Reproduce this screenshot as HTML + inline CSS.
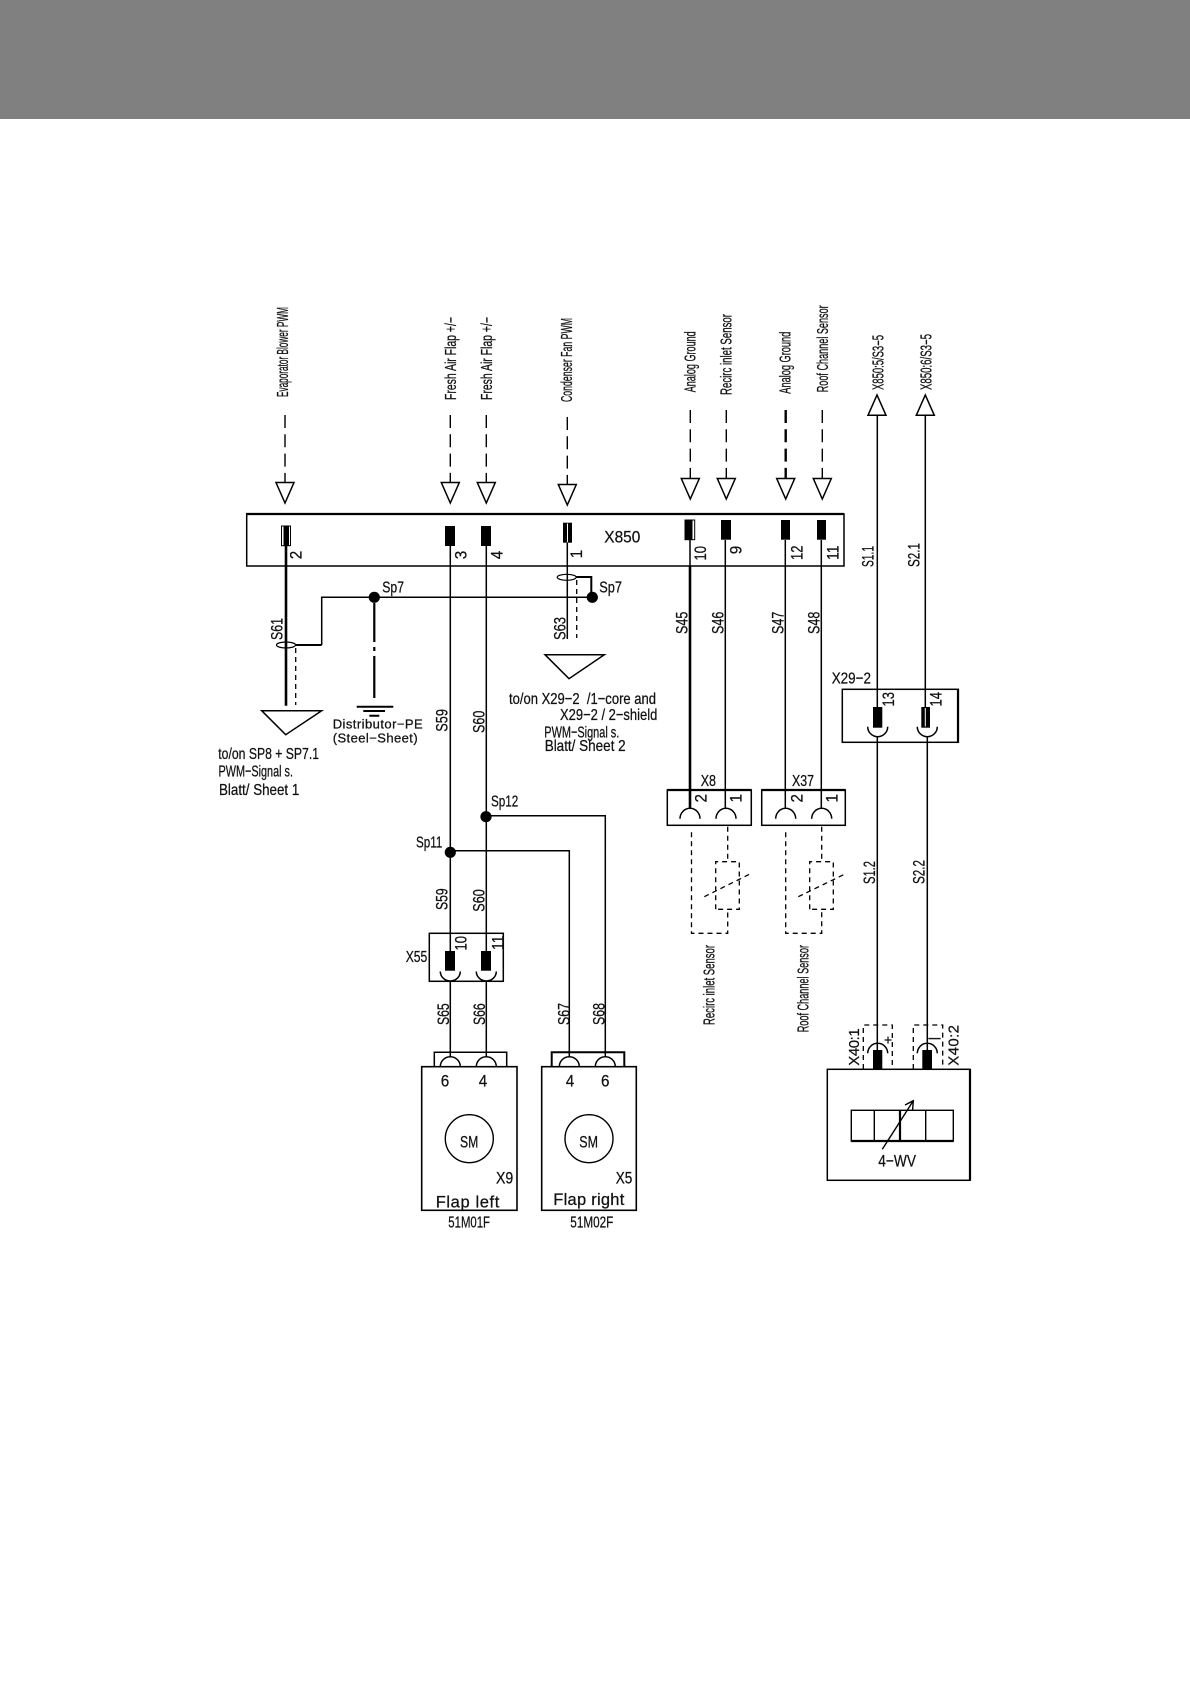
<!DOCTYPE html>
<html><head><meta charset="utf-8"><style>
html,body{margin:0;padding:0;background:#fff;width:1190px;height:1684px;overflow:hidden}
svg{display:block}
text{font-family:"Liberation Sans",sans-serif;fill:#111;stroke:#111;stroke-width:.25}
.l{stroke:#000;stroke-width:1.5;fill:none}
.t{stroke:#000;stroke-width:2.6;fill:none}
.d{stroke:#000;stroke-width:1.4;fill:none;stroke-dasharray:13 6.3}
.s{stroke:#000;stroke-width:1.3;fill:none;stroke-dasharray:5 4}
.a{stroke:#000;stroke-width:1.5;fill:#fff}
.c{font-size:15.5px}
.w{font-size:16.5px}
.n{font-size:17px;text-anchor:middle}
.b{font-size:16px}
</style></head><body>
<svg width="1190" height="1684" viewBox="0 0 1190 1684" xmlns="http://www.w3.org/2000/svg">
<rect x="0" y="0" width="1190" height="119" fill="#808080"/>

<!-- top dashed arrows -->
<path class="d" d="M285 415V482M450.3 415V482M486.3 415V482M567.3 417V484M690.3 410V478M726.3 410V478M822.3 410V478"/>
<path class="d" style="stroke-width:2.4" d="M785.7 410V478"/>
<path class="a" d="M276 482.5H294L285 503ZM441.3 482.5H459.3L450.3 503ZM477.3 482.5H495.3L486.3 503ZM558.3 484.5H576.3L567.3 505ZM681.3 478.5H699.3L690.3 499ZM717.3 478.5H735.3L726.3 499ZM776.7 478.5H794.7L785.7 499ZM813.3 478.5H831.3L822.3 499Z"/>
<path class="a" d="M868 415.3H886L877 395ZM916.3 415.3H934.3L925.3 395Z"/>

<!-- rotated top labels -->
<text class="c" transform="translate(288 397) rotate(-90)" textLength="90" lengthAdjust="spacingAndGlyphs">Evaporator Blower PWM</text>
<text class="c" transform="translate(456 400) rotate(-90)" textLength="83" lengthAdjust="spacingAndGlyphs">Fresh Air Flap +/−</text>
<text class="c" transform="translate(492 400) rotate(-90)" textLength="83" lengthAdjust="spacingAndGlyphs">Fresh Air Flap +/−</text>
<text class="c" transform="translate(572 402) rotate(-90)" textLength="84" lengthAdjust="spacingAndGlyphs">Condenser Fan PWM</text>
<text class="c" transform="translate(695.7 392.3) rotate(-90)" textLength="61" lengthAdjust="spacingAndGlyphs">Analog Ground</text>
<text class="c" transform="translate(731.7 395) rotate(-90)" textLength="81" lengthAdjust="spacingAndGlyphs">Recirc inlet Sensor</text>
<text class="c" transform="translate(790.3 393.7) rotate(-90)" textLength="62" lengthAdjust="spacingAndGlyphs">Analog Ground</text>
<text class="c" transform="translate(828 392.3) rotate(-90)" textLength="87" lengthAdjust="spacingAndGlyphs">Roof Channel Sensor</text>
<text class="c" transform="translate(883.3 390) rotate(-90)" textLength="55" lengthAdjust="spacingAndGlyphs">X850:5/S3−5</text>
<text class="c" transform="translate(931.3 390) rotate(-90)" textLength="56" lengthAdjust="spacingAndGlyphs">X850:6/S3−5</text>

<!-- X850 box -->
<rect x="246.7" y="514" width="597.3" height="52" fill="none" stroke="#000" stroke-width="1.5"/>
<path stroke="#000" stroke-width="2.2" d="M246 514H844"/>
<text class="b" x="604.3" y="542.7" style="font-size:17px" textLength="36" lengthAdjust="spacingAndGlyphs">X850</text>

<!-- pins -->
<rect x="281.5" y="526" width="9" height="19.7" fill="#fff" stroke="#000" stroke-width="1"/>
<rect x="283.5" y="526" width="5.5" height="19.7" fill="#000"/>
<rect x="445" y="526" width="10" height="20" fill="#000"/>
<rect x="481" y="526" width="10" height="20" fill="#000"/>
<rect x="563" y="522.7" width="9" height="20" fill="#000"/>
<rect x="567" y="523.5" width="1" height="18.5" fill="#fff"/>
<rect x="685" y="520" width="9.7" height="19.7" fill="#fff" stroke="#000" stroke-width="1"/>
<rect x="685" y="520" width="7.5" height="19.7" fill="#000"/>
<rect x="721" y="520" width="10" height="19.7" fill="#000"/>
<rect x="781" y="520" width="9" height="19.7" fill="#000"/>
<rect x="817" y="520" width="9" height="19.7" fill="#000"/>

<text class="n" transform="translate(301.7 555) rotate(-90)" textLength="8.5" lengthAdjust="spacingAndGlyphs">2</text>
<text class="n" transform="translate(466.7 555) rotate(-90)" textLength="8.5" lengthAdjust="spacingAndGlyphs">3</text>
<text class="n" transform="translate(502.7 555) rotate(-90)" textLength="8.5" lengthAdjust="spacingAndGlyphs">4</text>
<text class="n" transform="translate(582 554) rotate(-90)" textLength="8.5" lengthAdjust="spacingAndGlyphs">1</text>
<text class="n" transform="translate(706 553.3) rotate(-90)" textLength="14.5" lengthAdjust="spacingAndGlyphs">10</text>
<text class="n" transform="translate(741.7 550) rotate(-90)" textLength="8.5" lengthAdjust="spacingAndGlyphs">9</text>
<text class="n" transform="translate(802.7 552.7) rotate(-90)" textLength="14.5" lengthAdjust="spacingAndGlyphs">12</text>
<text class="n" transform="translate(838.7 552.7) rotate(-90)" textLength="14.5" lengthAdjust="spacingAndGlyphs">11</text>

<!-- wires from X850 -->
<path class="t" d="M286 546V705.7"/>
<path class="l" d="M450.3 546V951M486.3 546V951M567.3 543V639"/>
<path class="l" d="M690 540V566M725.3 540V808.3M785.3 540V808.3M821.3 540V808.3"/>
<path class="t" d="M690 566V808.3"/>
<path class="l" d="M877.3 415V707M925.3 415V707"/>

<!-- shield / Sp7 -->
<ellipse cx="286" cy="645" rx="9.5" ry="3" fill="none" stroke="#000" stroke-width="1.2"/>
<ellipse cx="566.7" cy="577.3" rx="9.5" ry="3" fill="none" stroke="#000" stroke-width="1.2"/>
<path class="t" d="M295 645H321.7" style="stroke-width:2"/>
<path class="l" d="M321.7 645V597.3H592"/>
<path class="t" d="M576 577H591.3V597" style="stroke-width:2"/>
<circle cx="374.3" cy="597.3" r="5.6" fill="#000"/>
<circle cx="592.3" cy="597.3" r="5.6" fill="#000"/>
<path class="s" d="M295.7 648V705M576.7 580V638"/>
<path stroke="#000" stroke-width="2.2" fill="none" stroke-dasharray="39 5 4 5 43" d="M374.3 603V698"/>
<path stroke="#000" stroke-width="2" d="M356.7 706.7H393.3M363.3 711H385M369.3 715.7H379.3"/>

<path class="a" d="M261.7 710.7H321.7L285.7 734.7Z"/>
<path class="a" d="M545 654.7H604.3L569 678.7Z"/>

<text class="b" x="382.3" y="592.3" textLength="21.7" lengthAdjust="spacingAndGlyphs">Sp7</text>
<text class="b" x="599.3" y="592.3" textLength="22.7" lengthAdjust="spacingAndGlyphs">Sp7</text>
<text class="w" transform="translate(282.3 640) rotate(-90)" textLength="22" lengthAdjust="spacingAndGlyphs">S61</text>
<text class="w" transform="translate(565.3 640) rotate(-90)" textLength="23" lengthAdjust="spacingAndGlyphs">S63</text>
<text class="w" transform="translate(447.7 731.7) rotate(-90)" textLength="22.7" lengthAdjust="spacingAndGlyphs">S59</text>
<text class="w" transform="translate(484.3 733) rotate(-90)" textLength="22.3" lengthAdjust="spacingAndGlyphs">S60</text>

<text class="b" x="218.3" y="759" textLength="100.7" lengthAdjust="spacingAndGlyphs">to/on SP8 + SP7.1</text>
<text class="b" x="218.5" y="776.7" textLength="74.5" lengthAdjust="spacingAndGlyphs">PWM−Signal s.</text>
<text class="b" x="219" y="795" textLength="80.3" lengthAdjust="spacingAndGlyphs">Blatt/ Sheet 1</text>
<text style="font-size:13px" x="332.7" y="728.3" textLength="90" lengthAdjust="spacing">Distributor−PE</text>
<text style="font-size:13px" x="332.7" y="742.7" textLength="85" lengthAdjust="spacing">(Steel−Sheet)</text>
<text class="b" x="509" y="704" textLength="147" lengthAdjust="spacingAndGlyphs" xml:space="preserve">to/on X29−2  /1−core and</text>
<text class="b" x="560" y="720" textLength="97.3" lengthAdjust="spacingAndGlyphs">X29−2 / 2−shield</text>
<text class="b" x="544.3" y="737.3" textLength="75" lengthAdjust="spacingAndGlyphs">PWM−Signal s.</text>
<text class="b" x="544.7" y="751" textLength="81" lengthAdjust="spacingAndGlyphs">Blatt/ Sheet 2</text>

<!-- Sp11 Sp12 -->
<circle cx="486" cy="816.7" r="5.6" fill="#000"/>
<circle cx="450.3" cy="852.3" r="5.6" fill="#000"/>
<path class="l" d="M486 815.7H605.3V1056.7M450.3 850.7H569.3V1056.7"/>
<text class="b" x="491" y="806.7" textLength="27.3" lengthAdjust="spacingAndGlyphs">Sp12</text>
<text class="b" x="416" y="847.3" textLength="26.3" lengthAdjust="spacingAndGlyphs">Sp11</text>

<!-- X55 -->
<rect x="429.3" y="933.3" width="74" height="48" fill="#fff" stroke="#000" stroke-width="1.5"/>
<path class="l" d="M450.3 933.3V951M486.3 933.3V951M450.3 981V1056.7M486.3 981V1056.7"/>
<rect x="445" y="951" width="10" height="19.7" fill="#000"/>
<rect x="481" y="951" width="10" height="19.7" fill="#000"/>
<path class="l" d="M440.3 971.5A10 9.5 0 0 0 460.3 971.5M476.3 971.5A10 9.5 0 0 0 496.3 971.5"/>
<text class="b" x="405.7" y="962" textLength="21.6" lengthAdjust="spacingAndGlyphs">X55</text>
<text class="n" transform="translate(466.7 943.3) rotate(-90)" textLength="14.5" lengthAdjust="spacingAndGlyphs">10</text>
<text class="n" transform="translate(503.3 942.7) rotate(-90)" textLength="14.5" lengthAdjust="spacingAndGlyphs">11</text>
<text class="w" transform="translate(447.3 910) rotate(-90)" textLength="21.7" lengthAdjust="spacingAndGlyphs">S59</text>
<text class="w" transform="translate(484.3 911.7) rotate(-90)" textLength="22.4" lengthAdjust="spacingAndGlyphs">S60</text>
<text class="w" transform="translate(449 1025) rotate(-90)" textLength="21.7" lengthAdjust="spacingAndGlyphs">S65</text>
<text class="w" transform="translate(485 1025) rotate(-90)" textLength="21.7" lengthAdjust="spacingAndGlyphs">S66</text>
<text class="w" transform="translate(569.3 1025) rotate(-90)" textLength="22" lengthAdjust="spacingAndGlyphs">S67</text>
<text class="w" transform="translate(604.3 1025) rotate(-90)" textLength="22" lengthAdjust="spacingAndGlyphs">S68</text>

<!-- Motors -->
<path class="l" d="M434.3 1066.7V1052.3H506.7V1066.7"/>
<path stroke="#000" stroke-width="2" fill="none" d="M551.7 1066.7V1052.3H624.3V1066.7"/>
<rect x="421.7" y="1066.7" width="95.3" height="143.6" fill="#fff" stroke="#000" stroke-width="1.6"/>
<rect x="541.7" y="1066.7" width="94.6" height="143.6" fill="#fff" stroke="#000" stroke-width="1.6"/>
<path class="l" d="M440.3 1066.7A10 10 0 0 1 460.3 1066.7M476.3 1066.7A10 10 0 0 1 496.3 1066.7M559.3 1066.7A10 10 0 0 1 579.3 1066.7M595.3 1066.7A10 10 0 0 1 615.3 1066.7"/>
<circle cx="469.3" cy="1138.7" r="24" fill="none" stroke="#000" stroke-width="1.4"/>
<circle cx="589" cy="1138.7" r="24" fill="none" stroke="#000" stroke-width="1.4"/>
<text class="n" x="445" y="1086.7" textLength="8.5" lengthAdjust="spacingAndGlyphs">6</text>
<text class="n" x="483" y="1086.7" textLength="8.5" lengthAdjust="spacingAndGlyphs">4</text>
<text class="n" x="570" y="1086.7" textLength="8.5" lengthAdjust="spacingAndGlyphs">4</text>
<text class="n" x="605.3" y="1086.7" textLength="8.5" lengthAdjust="spacingAndGlyphs">6</text>
<text class="b" x="460" y="1147.3" style="font-size:17px" textLength="18.3" lengthAdjust="spacingAndGlyphs">SM</text>
<text class="b" x="579.3" y="1147.3" style="font-size:17px" textLength="18.7" lengthAdjust="spacingAndGlyphs">SM</text>
<text class="b" x="496" y="1183.3" style="font-size:17px" textLength="17.3" lengthAdjust="spacingAndGlyphs">X9</text>
<text class="b" x="615.7" y="1183.3" style="font-size:17px" textLength="16.6" lengthAdjust="spacingAndGlyphs">X5</text>
<text style="font-size:16.5px" x="435.7" y="1207.3" textLength="63.6" lengthAdjust="spacing">Flap left</text>
<text style="font-size:16.5px" x="553.3" y="1205" textLength="71" lengthAdjust="spacing">Flap right</text>
<text class="b" x="448.3" y="1227.3" textLength="41.7" lengthAdjust="spacingAndGlyphs">51M01F</text>
<text class="b" x="570.3" y="1227.3" textLength="43" lengthAdjust="spacingAndGlyphs">51M02F</text>

<!-- X8, X37 -->
<rect x="667.3" y="790" width="84" height="35.3" fill="none" stroke="#000" stroke-width="1.5"/>
<rect x="761.7" y="790" width="83.6" height="35.3" fill="none" stroke="#000" stroke-width="1.5"/>
<path stroke="#000" stroke-width="2.2" d="M667 790H751.5M761.5 790H845.5"/>
<path class="l" d="M680 818.7A10 10.4 0 0 1 700 818.7M716 818.7A10 10.4 0 0 1 736 818.7M775.7 818.7A10 10.4 0 0 1 795.7 818.7M811.7 818.7A10 10.4 0 0 1 831.7 818.7"/>
<text class="b" x="700.7" y="786" textLength="15.3" lengthAdjust="spacingAndGlyphs">X8</text>
<text class="b" x="792" y="786" textLength="22" lengthAdjust="spacingAndGlyphs">X37</text>
<text class="n" transform="translate(706.7 798.3) rotate(-90)" textLength="8.5" lengthAdjust="spacingAndGlyphs">2</text>
<text class="n" transform="translate(741.7 798.3) rotate(-90)" textLength="8.5" lengthAdjust="spacingAndGlyphs">1</text>
<text class="n" transform="translate(802.7 798.3) rotate(-90)" textLength="8.5" lengthAdjust="spacingAndGlyphs">2</text>
<text class="n" transform="translate(837.7 798.3) rotate(-90)" textLength="8.5" lengthAdjust="spacingAndGlyphs">1</text>
<text class="w" transform="translate(687.7 634) rotate(-90)" textLength="22.3" lengthAdjust="spacingAndGlyphs">S45</text>
<text class="w" transform="translate(723.3 634) rotate(-90)" textLength="22.3" lengthAdjust="spacingAndGlyphs">S46</text>
<text class="w" transform="translate(783.7 634) rotate(-90)" textLength="22.3" lengthAdjust="spacingAndGlyphs">S47</text>
<text class="w" transform="translate(819.3 634) rotate(-90)" textLength="22.3" lengthAdjust="spacingAndGlyphs">S48</text>

<!-- Sensors dashed -->
<path class="s" d="M691.5 832.3V933.3H727.7V909.3M715.7 909.3V861.7H739.3V909.3H715.7M727.7 826.7V861.7M704.3 896.7L750 874"/>
<path class="s" d="M785.7 832.3V933.3H821.7V909.3M809.7 909.3V861.7H833.3V909.3H809.7M821.7 826.7V861.7M798.3 896.7L845 874"/>
<text class="c" transform="translate(714.3 1025) rotate(-90)" textLength="80" lengthAdjust="spacingAndGlyphs">Recirc inlet Sensor</text>
<text class="c" transform="translate(808.3 1032.3) rotate(-90)" textLength="87.3" lengthAdjust="spacingAndGlyphs">Roof Channel Sensor</text>

<!-- X29-2 -->
<rect x="842.3" y="689.3" width="116" height="53" fill="none" stroke="#000" stroke-width="1.5"/>
<path stroke="#000" stroke-width="2.2" d="M958 689V742.5"/>
<text class="b" x="831.7" y="683.3" textLength="39.3" lengthAdjust="spacingAndGlyphs">X29−2</text>
<rect x="873" y="707" width="9.3" height="20.7" fill="#000"/>
<rect x="921.3" y="707" width="8.7" height="20.7" fill="#000"/>
<rect x="924.8" y="708" width="1" height="18.5" fill="#fff"/>
<path class="l" d="M867.7 726.7A10 10 0 0 0 887.7 726.7M917.3 726.7A10 10 0 0 0 937.3 726.7"/>
<path class="l" d="M877.3 737V1050M927.3 737V1050"/>
<text class="n" transform="translate(894 699.3) rotate(-90)" textLength="14.5" lengthAdjust="spacingAndGlyphs">13</text>
<text class="n" transform="translate(941.7 699.3) rotate(-90)" textLength="14.5" lengthAdjust="spacingAndGlyphs">14</text>
<text class="w" transform="translate(873.3 567) rotate(-90)" textLength="21" lengthAdjust="spacingAndGlyphs">S1.1</text>
<text class="w" transform="translate(919.3 567) rotate(-90)" textLength="24" lengthAdjust="spacingAndGlyphs">S2.1</text>
<text class="w" transform="translate(875 884) rotate(-90)" textLength="23" lengthAdjust="spacingAndGlyphs">S1.2</text>
<text class="w" transform="translate(924.3 884) rotate(-90)" textLength="24" lengthAdjust="spacingAndGlyphs">S2.2</text>

<!-- X40 -->
<path class="s" d="M863.3 1069V1025H892.3V1069"/>
<path class="s" d="M913.3 1069V1025H942.7V1069"/>
<path class="l" d="M867.7 1053.3A10 10 0 0 1 887.7 1053.3M917.3 1053.3A10 10 0 0 1 937.3 1053.3"/>
<text style="font-size:15px" transform="translate(859 1065.7) rotate(-90)" textLength="37.4" lengthAdjust="spacing">X40:1</text>
<text style="font-size:15px" transform="translate(958.3 1065.7) rotate(-90)" textLength="40.7" lengthAdjust="spacing">X40:2</text>
<text class="n" transform="translate(892.5 1040) rotate(-90)" style="font-size:14px">+</text>
<text class="n" transform="translate(938 1038.5) rotate(-90)" style="font-size:13px">|</text>

<!-- 4-WV -->
<rect x="827.3" y="1069.3" width="142.7" height="111" fill="#fff" stroke="#000" stroke-width="1.5"/>
<path stroke="#000" stroke-width="2.2" d="M970 1069V1180.5"/>
<rect x="873" y="1050" width="9.3" height="19.5" fill="#000"/>
<rect x="922.3" y="1050" width="9.7" height="19.5" fill="#000"/>
<rect x="851.3" y="1110.3" width="102" height="30.7" fill="none" stroke="#000" stroke-width="1.4"/>
<path stroke="#000" stroke-width="1.4" d="M874.3 1110.3V1141M925.7 1110.3V1141"/>
<path stroke="#000" stroke-width="2.2" d="M900 1110.3V1141M851 1141H953.5"/>
<path stroke="#000" stroke-width="1.4" fill="none" d="M882.3 1149.3L913.3 1100.7M905 1105L913.3 1100.7L912.6 1110"/>
<text class="b" x="878.3" y="1166.7" style="font-size:17px" textLength="37.7" lengthAdjust="spacingAndGlyphs">4−WV</text>
</svg>
</body></html>
